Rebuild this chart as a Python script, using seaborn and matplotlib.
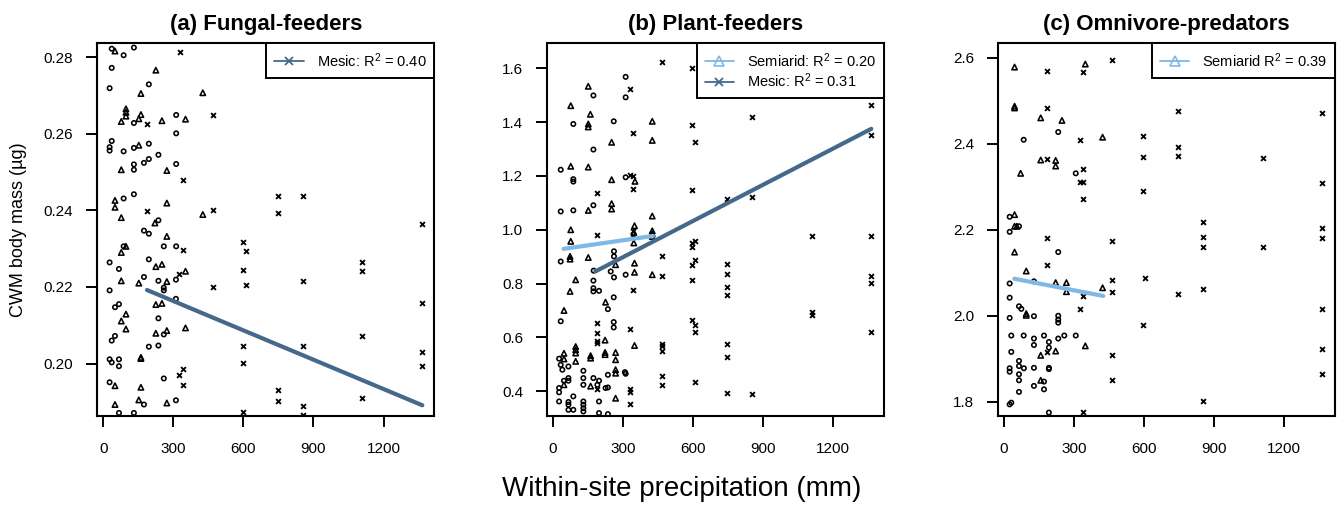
import pandas as pd
import seaborn as sns
import matplotlib.pyplot as plt
from matplotlib.lines import Line2D

# ---- (a) Fungal-feeders ----
a_arid_x = [36, 131, 87, 36, 27, 195, 312, 131, 312, 36, 27, 27, 87, 131, 195, 236, 195, 174, 131, 131,
            312, 87, 131, 236, 174, 195, 87, 259, 312, 27, 67, 195, 174, 236, 311, 259, 259, 27, 311, 67,
            50, 236, 259, 50, 36, 195, 236, 27, 67, 36, 67, 27, 259, 174, 311, 67, 131]
a_arid_y = [0.2822, 0.2825, 0.2805, 0.2772, 0.2719, 0.2729, 0.2649, 0.2628, 0.2601, 0.2581, 0.2565, 0.2556,
            0.2554, 0.2563, 0.2574, 0.2545, 0.2534, 0.2524, 0.2520, 0.2506, 0.2521, 0.2431, 0.2442, 0.2374,
            0.2347, 0.2339, 0.2306, 0.2306, 0.2306, 0.2264, 0.2247, 0.2272, 0.2226, 0.2216, 0.2219, 0.2198,
            0.2191, 0.2191, 0.2169, 0.2155, 0.2147, 0.2118, 0.2076, 0.2072, 0.2060, 0.2044, 0.2047, 0.2011,
            0.2011, 0.2003, 0.1993, 0.1951, 0.1961, 0.1893, 0.1904, 0.1871, 0.1871]
a_semi_x = [50, 225, 161, 426, 97, 97, 97, 77, 161, 152, 251, 352, 152, 77, 272, 50, 50, 77, 272, 426,
            221, 272, 97, 77, 225, 251, 352, 77, 152, 272, 225, 251, 97, 77, 97, 225, 272, 352, 161, 161,
            50, 161, 152, 50, 272]
a_semi_y = [0.2816, 0.2766, 0.2705, 0.2707, 0.2665, 0.2656, 0.2646, 0.2632, 0.2650, 0.2639, 0.2634, 0.2638,
            0.2570, 0.2506, 0.2504, 0.2426, 0.2408, 0.2381, 0.2419, 0.2389, 0.2367, 0.2332, 0.2306, 0.2290,
            0.2253, 0.2259, 0.2241, 0.2216, 0.2210, 0.2214, 0.2154, 0.2157, 0.2129, 0.2111, 0.2090, 0.2079,
            0.2086, 0.2093, 0.2013, 0.2016, 0.1942, 0.1938, 0.1905, 0.1893, 0.1897]
a_mesic_x = [329, 469, 189, 343, 748, 748, 853, 189, 469, 1365, 600, 610, 343, 326, 469, 600, 610, 600,
             600, 343, 326, 343, 748, 748, 600, 853, 1108, 1108, 1108, 1108, 853, 853, 853, 1365, 1365, 1365]
a_mesic_y = [0.2813, 0.2648, 0.2626, 0.2478, 0.2438, 0.2393, 0.2438, 0.2398, 0.2400, 0.2364, 0.2318, 0.2293,
             0.2297, 0.2234, 0.2199, 0.2245, 0.2205, 0.2045, 0.2002, 0.1986, 0.1971, 0.1944, 0.1932, 0.1902,
             0.1873, 0.2216, 0.2266, 0.2242, 0.2073, 0.1911, 0.2045, 0.1890, 0.1866, 0.2157, 0.2029, 0.1994]
a_fit_mesic_x = [187, 1366]
a_fit_mesic_y = [0.2192, 0.1891]

# ---- (b) Plant-feeders ----
b_arid_x = [311, 173, 311, 87, 260, 173, 33, 87, 87, 311, 33, 87, 173, 261, 261, 33, 247, 261, 173, 173,
            173, 197, 311, 260, 235, 33, 260, 260, 174, 26, 33, 66, 40, 66, 66, 26, 26, 47, 87, 26, 66, 66,
            66, 87, 130, 130, 130, 130, 130, 130, 173, 190, 197, 235, 225, 235, 197, 197, 235, 308, 311, 130]
b_arid_y = [1.568, 1.499, 1.492, 1.393, 1.403, 1.298, 1.223, 1.188, 1.179, 1.195, 1.068, 1.072, 1.091,
            0.920, 0.901, 0.882, 0.845, 0.823, 0.811, 0.783, 0.771, 0.773, 0.833, 0.749, 0.705, 0.660,
            0.657, 0.637, 0.848, 0.521, 0.498, 0.492, 0.480, 0.449, 0.439, 0.412, 0.396, 0.439, 0.381,
            0.362, 0.360, 0.350, 0.331, 0.331, 0.449, 0.424, 0.362, 0.350, 0.337, 0.325, 0.449, 0.424,
            0.439, 0.461, 0.412, 0.414, 0.362, 0.319, 0.315, 0.471, 0.465, 0.476]
b_semi_x = [151, 76, 160, 151, 151, 425, 251, 425, 76, 151, 251, 351, 251, 251, 151, 425, 76, 349, 76,
            73, 73, 151, 268, 349, 349, 425, 97, 73, 225, 47, 223, 349, 47, 47, 97, 97, 97, 161, 161, 223,
            223, 268, 268, 97, 161, 268, 268, 47, 268, 425, 425, 425, 346, 346]
b_semi_y = [1.533, 1.461, 1.429, 1.393, 1.382, 1.403, 1.325, 1.332, 1.236, 1.233, 1.186, 1.180, 1.097,
            1.077, 1.072, 1.051, 1.000, 1.015, 0.957, 0.901, 0.891, 0.897, 0.870, 0.876, 0.842, 0.833,
            0.814, 0.771, 0.731, 0.700, 0.590, 0.570, 0.541, 0.520, 0.566, 0.554, 0.542, 0.532, 0.523,
            0.544, 0.536, 0.544, 0.517, 0.511, 0.419, 0.480, 0.467, 0.424, 0.374, 0.996, 0.985, 0.975,
            0.951, 0.990]
b_mesic_x = [467, 596, 328, 596, 342, 607, 328, 342, 342, 187, 596, 747, 851, 851, 1363, 1363, 1107, 1363,
             607, 596, 187, 342, 342, 467, 596, 596, 607, 596, 747, 747, 747, 747, 342, 467, 187, 187, 187,
             187, 328, 596, 607, 607, 467, 467, 467, 747, 747, 467, 467, 607, 747, 328, 328, 328, 187, 1107,
             1107, 1363, 1363, 1363, 851]
b_mesic_y = [1.623, 1.601, 1.522, 1.388, 1.358, 1.326, 1.202, 1.198, 1.153, 1.138, 1.148, 1.113, 1.418,
             1.123, 1.462, 1.351, 0.978, 0.977, 0.959, 0.950, 0.979, 0.996, 0.982, 0.901, 0.935, 0.870,
             0.889, 0.812, 0.873, 0.837, 0.786, 0.759, 0.775, 0.830, 0.653, 0.615, 0.585, 0.578, 0.631,
             0.666, 0.647, 0.620, 0.576, 0.567, 0.548, 0.575, 0.528, 0.456, 0.422, 0.433, 0.394, 0.409,
             0.397, 0.352, 0.407, 0.695, 0.685, 0.830, 0.803, 0.621, 0.391]
b_fit_semi_x = [45, 428]
b_fit_semi_y = [0.929, 0.977]
b_fit_mesic_x = [181, 1363]
b_fit_mesic_y = [0.845, 1.375]

# ---- (c) Omnivore-predators ----
c_arid_x = [84, 232, 307, 24, 64, 24, 232, 24, 128, 24, 64, 74, 24, 128, 232, 232, 232, 31, 84, 171, 258,
            307, 128, 128, 232, 192, 192, 31, 85, 24, 24, 64, 64, 128, 192, 192, 64, 64, 128, 171, 171, 64,
            24, 31, 192]
c_arid_y = [2.409, 2.427, 2.331, 2.230, 2.208, 2.195, 2.148, 2.075, 2.080, 2.042, 2.022, 2.016, 1.995,
            1.999, 2.000, 1.991, 1.984, 1.954, 1.954, 1.954, 1.954, 1.954, 1.947, 1.932, 1.947, 1.939,
            1.926, 1.916, 1.878, 1.878, 1.870, 1.895, 1.883, 1.879, 1.879, 1.876, 1.864, 1.850, 1.837,
            1.829, 1.847, 1.823, 1.794, 1.798, 1.775]
c_semi_x = [45, 348, 45, 45, 157, 248, 422, 157, 221, 221, 71, 45, 45, 55, 45, 95, 221, 267, 267, 422, 95,
            95, 221, 157, 348, 157]
c_semi_y = [2.578, 2.585, 2.487, 2.483, 2.460, 2.454, 2.415, 2.362, 2.361, 2.348, 2.331, 2.235, 2.208,
            2.208, 2.148, 2.104, 2.077, 2.077, 2.056, 2.065, 2.001, 2.005, 1.918, 1.908, 1.930, 1.850]
c_mesic_x = [463, 185, 339, 185, 745, 325, 593, 593, 745, 745, 185, 339, 325, 339, 339, 593, 1107, 1361,
             1361, 850, 850, 850, 1361, 1361, 1107, 463, 185, 185, 463, 463, 605, 745, 339, 325, 593, 185,
             463, 463, 339, 850, 850, 1361, 1361, 1361]
c_mesic_y = [2.595, 2.570, 2.567, 2.482, 2.477, 2.408, 2.417, 2.369, 2.392, 2.372, 2.365, 2.341, 2.312,
             2.312, 2.271, 2.289, 2.367, 2.472, 2.309, 2.217, 2.183, 2.159, 2.205, 2.180, 2.159, 2.173,
             2.180, 2.118, 2.082, 2.055, 2.087, 2.051, 2.046, 2.015, 1.979, 1.916, 1.909, 1.850, 1.777,
             2.063, 1.801, 2.015, 1.923, 1.865]
c_fit_semi_x = [44, 425]
c_fit_semi_y = [2.086, 2.046]

titles = ['(a) Fungal-feeders', '(b) Plant-feeders', '(c) Omnivore-predators']
x_ticks = [0, 300, 600, 900, 1200]
a_yticks = [0.20, 0.22, 0.24, 0.26, 0.28]
b_yticks = [0.4, 0.6, 0.8, 1.0, 1.2, 1.4, 1.6]
c_yticks = [1.8, 2.0, 2.2, 2.4, 2.6]

semi_col = '#7fb8e3'
mesic_col = '#44698b'

sns.set_theme(style='ticks')
plt.rcParams['font.family'] = ['Liberation Sans', 'DejaVu Sans']
plt.rcParams['mathtext.fontset'] = 'custom'
plt.rcParams['mathtext.rm'] = 'Liberation Sans'
plt.rcParams['mathtext.it'] = 'Liberation Sans:italic'
plt.rcParams['text.color'] = 'black'
plt.rcParams['axes.labelcolor'] = 'black'

fig = plt.figure(figsize=(13.38, 5.08), dpi=100)
lefts = [0.0725, 0.4086, 0.7457]
axes = [fig.add_axes([l, 0.1811, 0.2522, 0.7343]) for l in lefts]

panels = [
    (a_arid_x, a_arid_y, a_semi_x, a_semi_y, a_mesic_x, a_mesic_y, (0.1863, 0.2837), a_yticks, '%.2f'),
    (b_arid_x, b_arid_y, b_semi_x, b_semi_y, b_mesic_x, b_mesic_y, (0.308, 1.694), b_yticks, '%.1f'),
    (c_arid_x, c_arid_y, c_semi_x, c_semi_y, c_mesic_x, c_mesic_y, (1.767, 2.634), c_yticks, '%.1f'),
]

for ax, title, (ax_x, ax_y, sx, sy, mx, my, ylim, yt, fmt) in zip(axes, titles, panels):
    sns.scatterplot(x=ax_x, y=ax_y, ax=ax, marker='o', s=10, color='black',
                    facecolor='none', edgecolor='black', linewidth=1.15, legend=False, zorder=3)
    sns.scatterplot(x=sx, y=sy, ax=ax, marker='^', s=15, color='black',
                    facecolor='none', edgecolor='black', linewidth=1.15, legend=False, zorder=3)
    sns.scatterplot(x=mx, y=my, ax=ax, marker='x', s=12, color='black',
                    linewidth=1.35, legend=False, zorder=3)
    ax.set_xlim(-27, 1418)
    ax.set_ylim(*ylim)
    ax.set_xticks(x_ticks)
    ax.set_xticklabels([str(t) for t in x_ticks])
    ax.set_yticks(yt)
    ax.set_yticklabels([fmt % t for t in yt])
    ax.tick_params(axis='both', direction='out', length=8, width=1.4, labelsize=11,
                   colors='black')
    ax.tick_params(axis='x', pad=11)
    ax.tick_params(axis='y', pad=9)
    for sp in ax.spines.values():
        sp.set_linewidth(1.5)
        sp.set_color('black')
    ax.set_xlabel('')
    ax.set_ylabel('')
    ax.set_title(title, fontsize=16, fontweight='bold', pad=9, color='black')

# fitted lines
sns.lineplot(x=a_fit_mesic_x, y=a_fit_mesic_y, ax=axes[0], color=mesic_col, linewidth=3, zorder=4)
sns.lineplot(x=b_fit_semi_x, y=b_fit_semi_y, ax=axes[1], color=semi_col, linewidth=3, zorder=4)
sns.lineplot(x=b_fit_mesic_x, y=b_fit_mesic_y, ax=axes[1], color=mesic_col, linewidth=3, zorder=4)
sns.lineplot(x=c_fit_semi_x, y=c_fit_semi_y, ax=axes[2], color=semi_col, linewidth=3, zorder=4)

semi_h = Line2D([], [], color=semi_col, lw=1.3, marker='^', markersize=7,
                markerfacecolor='none', markeredgecolor=semi_col, markeredgewidth=1.2)
mesic_h = Line2D([], [], color=mesic_col, lw=1.3, marker='x', markersize=6,
                 markeredgecolor=mesic_col, markeredgewidth=1.3)

legends = [
    ([mesic_h], [r'Mesic: R$^{\rm 2}$ = 0.40']),
    ([semi_h, mesic_h], [r'Semiarid: R$^{\rm 2}$ = 0.20', r'Mesic: R$^{\rm 2}$ = 0.31']),
    ([semi_h], [r'Semiarid R$^{\rm 2}$ = 0.39']),
]
for ax, (hs, ls) in zip(axes, legends):
    leg = ax.legend(hs, ls, loc='upper right', bbox_to_anchor=(1, 1), borderaxespad=0,
                    fancybox=False, framealpha=1, edgecolor='black', fontsize=10.5,
                    handlelength=2.0, handletextpad=0.9, borderpad=0.55, labelspacing=0.1)
    leg.get_frame().set_linewidth(1.4)
    leg.set_zorder(5)

fig.text(0.0135, 0.547, 'CWM body mass (µg)', rotation=90, ha='center', va='center', fontsize=13)
fig.text(0.5095, 0.037, 'Within-site precipitation (mm)', ha='center', va='center', fontsize=20)

fig.savefig('out.png', dpi=100)
